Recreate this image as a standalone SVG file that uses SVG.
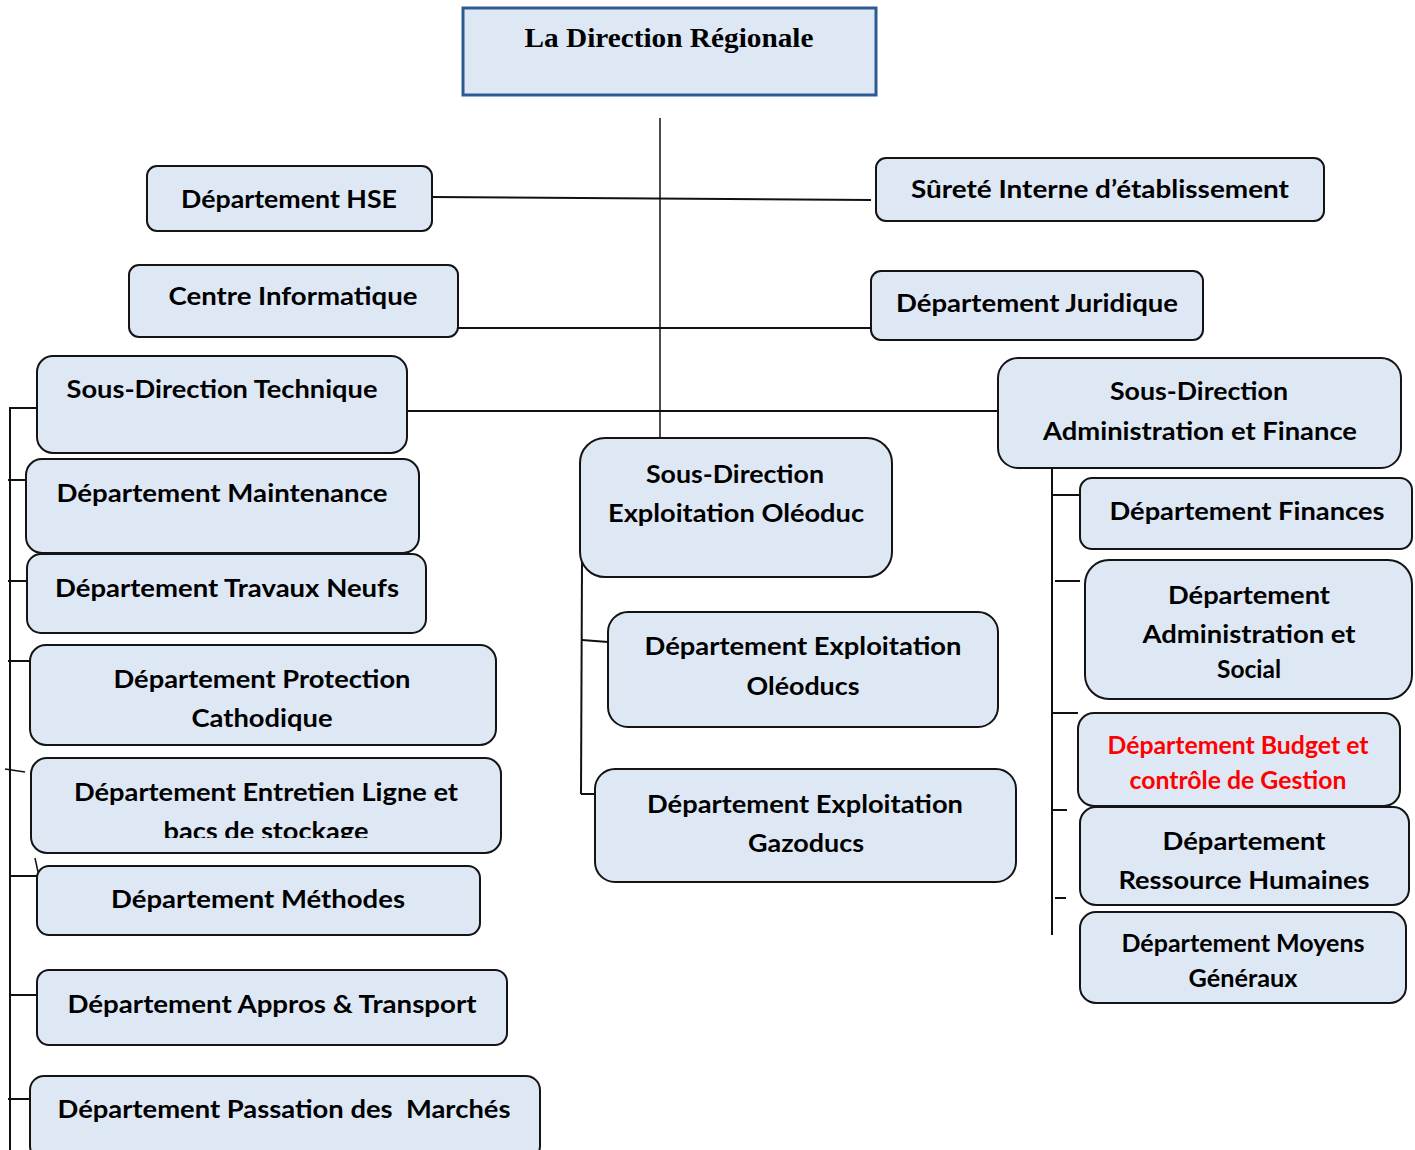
<svg xmlns="http://www.w3.org/2000/svg" width="1415" height="1150" viewBox="0 0 1415 1150">
<style>
.box{fill:#dee8f5;stroke:#141414;stroke-width:2}
.t{font-family:Lato,"Open Sans","Liberation Sans",sans-serif;font-weight:bold;font-size:24px;fill:#000;text-anchor:middle}
.red{fill:#ff0000}
.c{stroke:#111;stroke-width:2;fill:none}
.c1{stroke:#111;stroke-width:1.5;fill:none}
</style>
<defs>
<clipPath id="clipEL"><rect x="0" y="700" width="600" height="138"/></clipPath>
</defs>
<rect width="1415" height="1150" fill="#fff"/>
<g id="connectors">
<line class="c1" x1="660" y1="118" x2="660" y2="438"/>
<line class="c" x1="432" y1="197" x2="871" y2="200"/>
<line class="c" x1="458" y1="328" x2="871" y2="328"/>
<line class="c" x1="407" y1="411" x2="998" y2="411"/>
<path class="c" d="M10 1150 V408 H37"/>
<line class="c" x1="8" y1="480" x2="26" y2="480"/>
<line class="c" x1="8" y1="581" x2="27" y2="581"/>
<line class="c" x1="8" y1="661" x2="30" y2="661"/>
<line class="c1" x1="5" y1="769" x2="25" y2="772"/>
<line class="c" x1="10" y1="876" x2="37" y2="876"/>
<line class="c1" x1="35" y1="858" x2="38" y2="872"/>
<line class="c" x1="10" y1="995" x2="37" y2="995"/>
<line class="c" x1="8" y1="1099" x2="30" y2="1099"/>
<line class="c" x1="582" y1="562" x2="581" y2="794"/>
<line class="c" x1="582" y1="640" x2="608" y2="642"/>
<line class="c" x1="581" y1="794" x2="595" y2="794"/>
<line class="c" x1="1052" y1="440" x2="1052" y2="935"/>
<line class="c" x1="1052" y1="495" x2="1080" y2="495"/>
<line class="c" x1="1055" y1="581" x2="1080" y2="581"/>
<line class="c" x1="1052" y1="713" x2="1078" y2="713"/>
<line class="c" x1="1052" y1="810" x2="1067" y2="810"/>
<line class="c" x1="1055" y1="898" x2="1066" y2="898"/>
</g>
<g id="n-direction">
<rect x="463" y="8" width="413" height="87" fill="#dee8f5" stroke="#2e5a94" stroke-width="3"/>
<text x="669" y="47" font-family="'Liberation Serif',serif" font-weight="bold" font-size="28" text-anchor="middle" textLength="289" lengthAdjust="spacingAndGlyphs">La Direction Régionale</text>
</g>
<g id="n-hse">
<rect class="box" x="147" y="166" width="285" height="65" rx="10"/>
<text class="t" x="289" y="208" textLength="216" lengthAdjust="spacingAndGlyphs">Département HSE</text>
</g>
<g id="n-surete">
<rect class="box" x="876" y="158" width="448" height="63" rx="10"/>
<text class="t" x="1100" y="198" textLength="378" lengthAdjust="spacingAndGlyphs">Sûreté Interne d’établissement</text>
</g>
<g id="n-ci">
<rect class="box" x="129" y="265" width="329" height="72" rx="10"/>
<text class="t" x="293" y="305" textLength="249" lengthAdjust="spacingAndGlyphs">Centre Informatique</text>
</g>
<g id="n-juridique">
<rect class="box" x="871" y="271" width="332" height="69" rx="10"/>
<text class="t" x="1037" y="312" textLength="282" lengthAdjust="spacingAndGlyphs">Département Juridique</text>
</g>
<g id="n-sdt">
<rect class="box" x="37" y="356" width="370" height="97" rx="16"/>
<text class="t" x="222" y="398" textLength="311" lengthAdjust="spacingAndGlyphs">Sous-Direction Technique</text>
</g>
<g id="n-maintenance">
<rect class="box" x="26" y="459" width="393" height="94" rx="16"/>
<text class="t" x="222" y="502" textLength="331" lengthAdjust="spacingAndGlyphs">Département Maintenance</text>
</g>
<g id="n-travaux">
<rect class="box" x="27" y="554" width="399" height="79" rx="14"/>
<text class="t" x="227" y="597" textLength="344" lengthAdjust="spacingAndGlyphs">Département Travaux Neufs</text>
</g>
<g id="n-protection">
<rect class="box" x="30" y="645" width="466" height="100" rx="16"/>
<text class="t" x="262" y="688" textLength="297" lengthAdjust="spacingAndGlyphs">Département Protection</text>
<text class="t" x="262" y="727" textLength="141" lengthAdjust="spacingAndGlyphs">Cathodique</text>
</g>
<g id="n-entretien">
<rect class="box" x="31" y="758" width="470" height="95" rx="16"/>
<text class="t" x="266" y="801" textLength="384" lengthAdjust="spacingAndGlyphs">Département Entretien Ligne et</text>
<text class="t" x="266" y="840" textLength="205" lengthAdjust="spacingAndGlyphs" clip-path="url(#clipEL)">bacs de stockage</text>
</g>
<g id="n-methodes">
<rect class="box" x="37" y="866" width="443" height="69" rx="12"/>
<text class="t" x="258" y="908" textLength="294" lengthAdjust="spacingAndGlyphs">Département Méthodes</text>
</g>
<g id="n-appros">
<rect class="box" x="37" y="970" width="470" height="75" rx="12"/>
<text class="t" x="272" y="1013" textLength="409" lengthAdjust="spacingAndGlyphs">Département Appros &amp; Transport</text>
</g>
<g id="n-passation">
<rect class="box" x="30" y="1076" width="510" height="84" rx="14"/>
<text class="t" x="284" y="1118" textLength="453" lengthAdjust="spacingAndGlyphs" xml:space="preserve">Département Passation des  Marchés</text>
</g>
<g id="n-sdeo">
<rect class="box" x="580" y="438" width="312" height="139" rx="25"/>
<text class="t" x="735" y="483" textLength="178" lengthAdjust="spacingAndGlyphs">Sous-Direction</text>
<text class="t" x="736" y="522" textLength="256" lengthAdjust="spacingAndGlyphs">Exploitation Oléoduc</text>
</g>
<g id="n-oleoducs">
<rect class="box" x="608" y="612" width="390" height="115" rx="20"/>
<text class="t" x="803" y="655" textLength="317" lengthAdjust="spacingAndGlyphs">Département Exploitation</text>
<text class="t" x="803" y="695" textLength="113" lengthAdjust="spacingAndGlyphs">Oléoducs</text>
</g>
<g id="n-gazoducs">
<rect class="box" x="595" y="769" width="421" height="113" rx="20"/>
<text class="t" x="805" y="813" textLength="316" lengthAdjust="spacingAndGlyphs">Département Exploitation</text>
<text class="t" x="806" y="852" textLength="116" lengthAdjust="spacingAndGlyphs">Gazoducs</text>
</g>
<g id="n-sdaf">
<rect class="box" x="998" y="358" width="403" height="110" rx="20"/>
<text class="t" x="1199" y="400" textLength="178" lengthAdjust="spacingAndGlyphs">Sous-Direction</text>
<text class="t" x="1200" y="440" textLength="314" lengthAdjust="spacingAndGlyphs">Administration et Finance</text>
</g>
<g id="n-finances">
<rect class="box" x="1080" y="478" width="332" height="71" rx="12"/>
<text class="t" x="1247" y="520" textLength="275" lengthAdjust="spacingAndGlyphs">Département Finances</text>
</g>
<g id="n-admsocial">
<rect class="box" x="1085" y="560" width="327" height="139" rx="24"/>
<text class="t" x="1249" y="604" textLength="162" lengthAdjust="spacingAndGlyphs">Département</text>
<text class="t" x="1249" y="643" textLength="213" lengthAdjust="spacingAndGlyphs">Administration et</text>
<text class="t" x="1249" y="678" font-size="22" textLength="64" lengthAdjust="spacingAndGlyphs">Social</text>
</g>
<g id="n-budget">
<rect class="box" x="1078" y="713" width="322" height="93" rx="16"/>
<text class="t red" x="1238" y="754" font-size="23" textLength="261" lengthAdjust="spacingAndGlyphs">Département Budget et</text>
<text class="t red" x="1238" y="789" font-size="23" textLength="217" lengthAdjust="spacingAndGlyphs">contrôle de Gestion</text>
</g>
<g id="n-rh">
<rect class="box" x="1080" y="807" width="329" height="98" rx="16"/>
<text class="t" x="1244" y="850" textLength="163" lengthAdjust="spacingAndGlyphs">Département</text>
<text class="t" x="1244" y="889" textLength="251" lengthAdjust="spacingAndGlyphs">Ressource Humaines</text>
</g>
<g id="n-moyens">
<rect class="box" x="1080" y="912" width="326" height="91" rx="16"/>
<text class="t" x="1243" y="952" font-size="22" textLength="243" lengthAdjust="spacingAndGlyphs">Département Moyens</text>
<text class="t" x="1243" y="987" font-size="22" textLength="109" lengthAdjust="spacingAndGlyphs">Généraux</text>
</g>
</svg>
